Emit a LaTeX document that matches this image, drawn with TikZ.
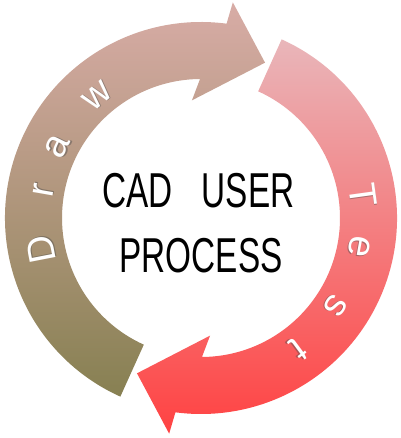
\documentclass[tikz,border=0pt]{standalone}
\usepackage{fontspec}
\setmainfont{Liberation Sans}
\definecolor{drawtop}{RGB}{216,172,166}
\definecolor{drawbot}{RGB}{135,128,82}
\definecolor{testtop}{RGB}{233,182,186}
\definecolor{testbot}{RGB}{255,66,66}
\tikzset{
  arcletter/.style={font=\fontsize{38}{38}\selectfont, text=white, inner sep=0pt, anchor=base},
  arcshade/.style={font=\fontsize{38}{38}\selectfont, text=black!70, text opacity=0.45, inner sep=0pt, anchor=base},
  titletext/.style={font=\fontsize{49}{49}\selectfont, text=black, inner sep=0pt, anchor=base}
}
\begin{document}
\begin{tikzpicture}[x=1pt,y=1pt]
\useasboundingbox (0,0) rectangle (400,438);
\fill[white] (0,0) rectangle (400,438);
\coordinate (C) at (201,220);
\begin{scope}[shift={(C)}]
  % Draw arrow (left)
  \shade[top color=drawtop, bottom color=drawbot]
    (245.7:196) arc[start angle=245.7, end angle=82.5, radius=196]
    -- (81.6:218) -- (67.6:168) -- (94.4:118) -- (90.4:139)
    arc[start angle=90.4, end angle=245.7, radius=139] -- cycle;
  % Test arrow (right)
  \shade[top color=testtop, bottom color=testbot]
    (65.7:196) arc[start angle=65.7, end angle=-97.5, radius=196]
    -- (-98.4:218) -- (-112.4:168) -- (-85.6:118) -- (-89.6:139)
    arc[start angle=-89.6, end angle=65.7, radius=139] -- cycle;
  % letters
  \foreach \ch/\ang in {D/191, r/170, a/153.6, w/130.4}{
    \node[arcshade, rotate=\ang-90, xshift=0.8pt, yshift=-0.8pt] (SD\ch) at (\ang:150) {\ch};
    \node[arcletter, rotate=\ang-90] (LD\ch) at (\ang:150) {\ch};
  }
  \foreach \ch/\ang in {T/7.9, e/-10.3, s/-33.2, t/-53.5}{
    \node[arcshade, rotate=\ang-90, xshift=0.8pt, yshift=-0.8pt] (ST\ch) at (\ang:151) {\ch};
    \node[arcletter, rotate=\ang-90] (LT\ch) at (\ang:151) {\ch};
  }
\end{scope}
\node[titletext] (cad) at (137.5,230) {\scalebox{0.68}[1]{CAD}};
\node[titletext] (user) at (248,230) {\scalebox{0.68}[1]{USER}};
\node[titletext] (process) at (201,165) {\scalebox{0.68}[1]{PROCESS}};
\end{tikzpicture}
\end{document}
